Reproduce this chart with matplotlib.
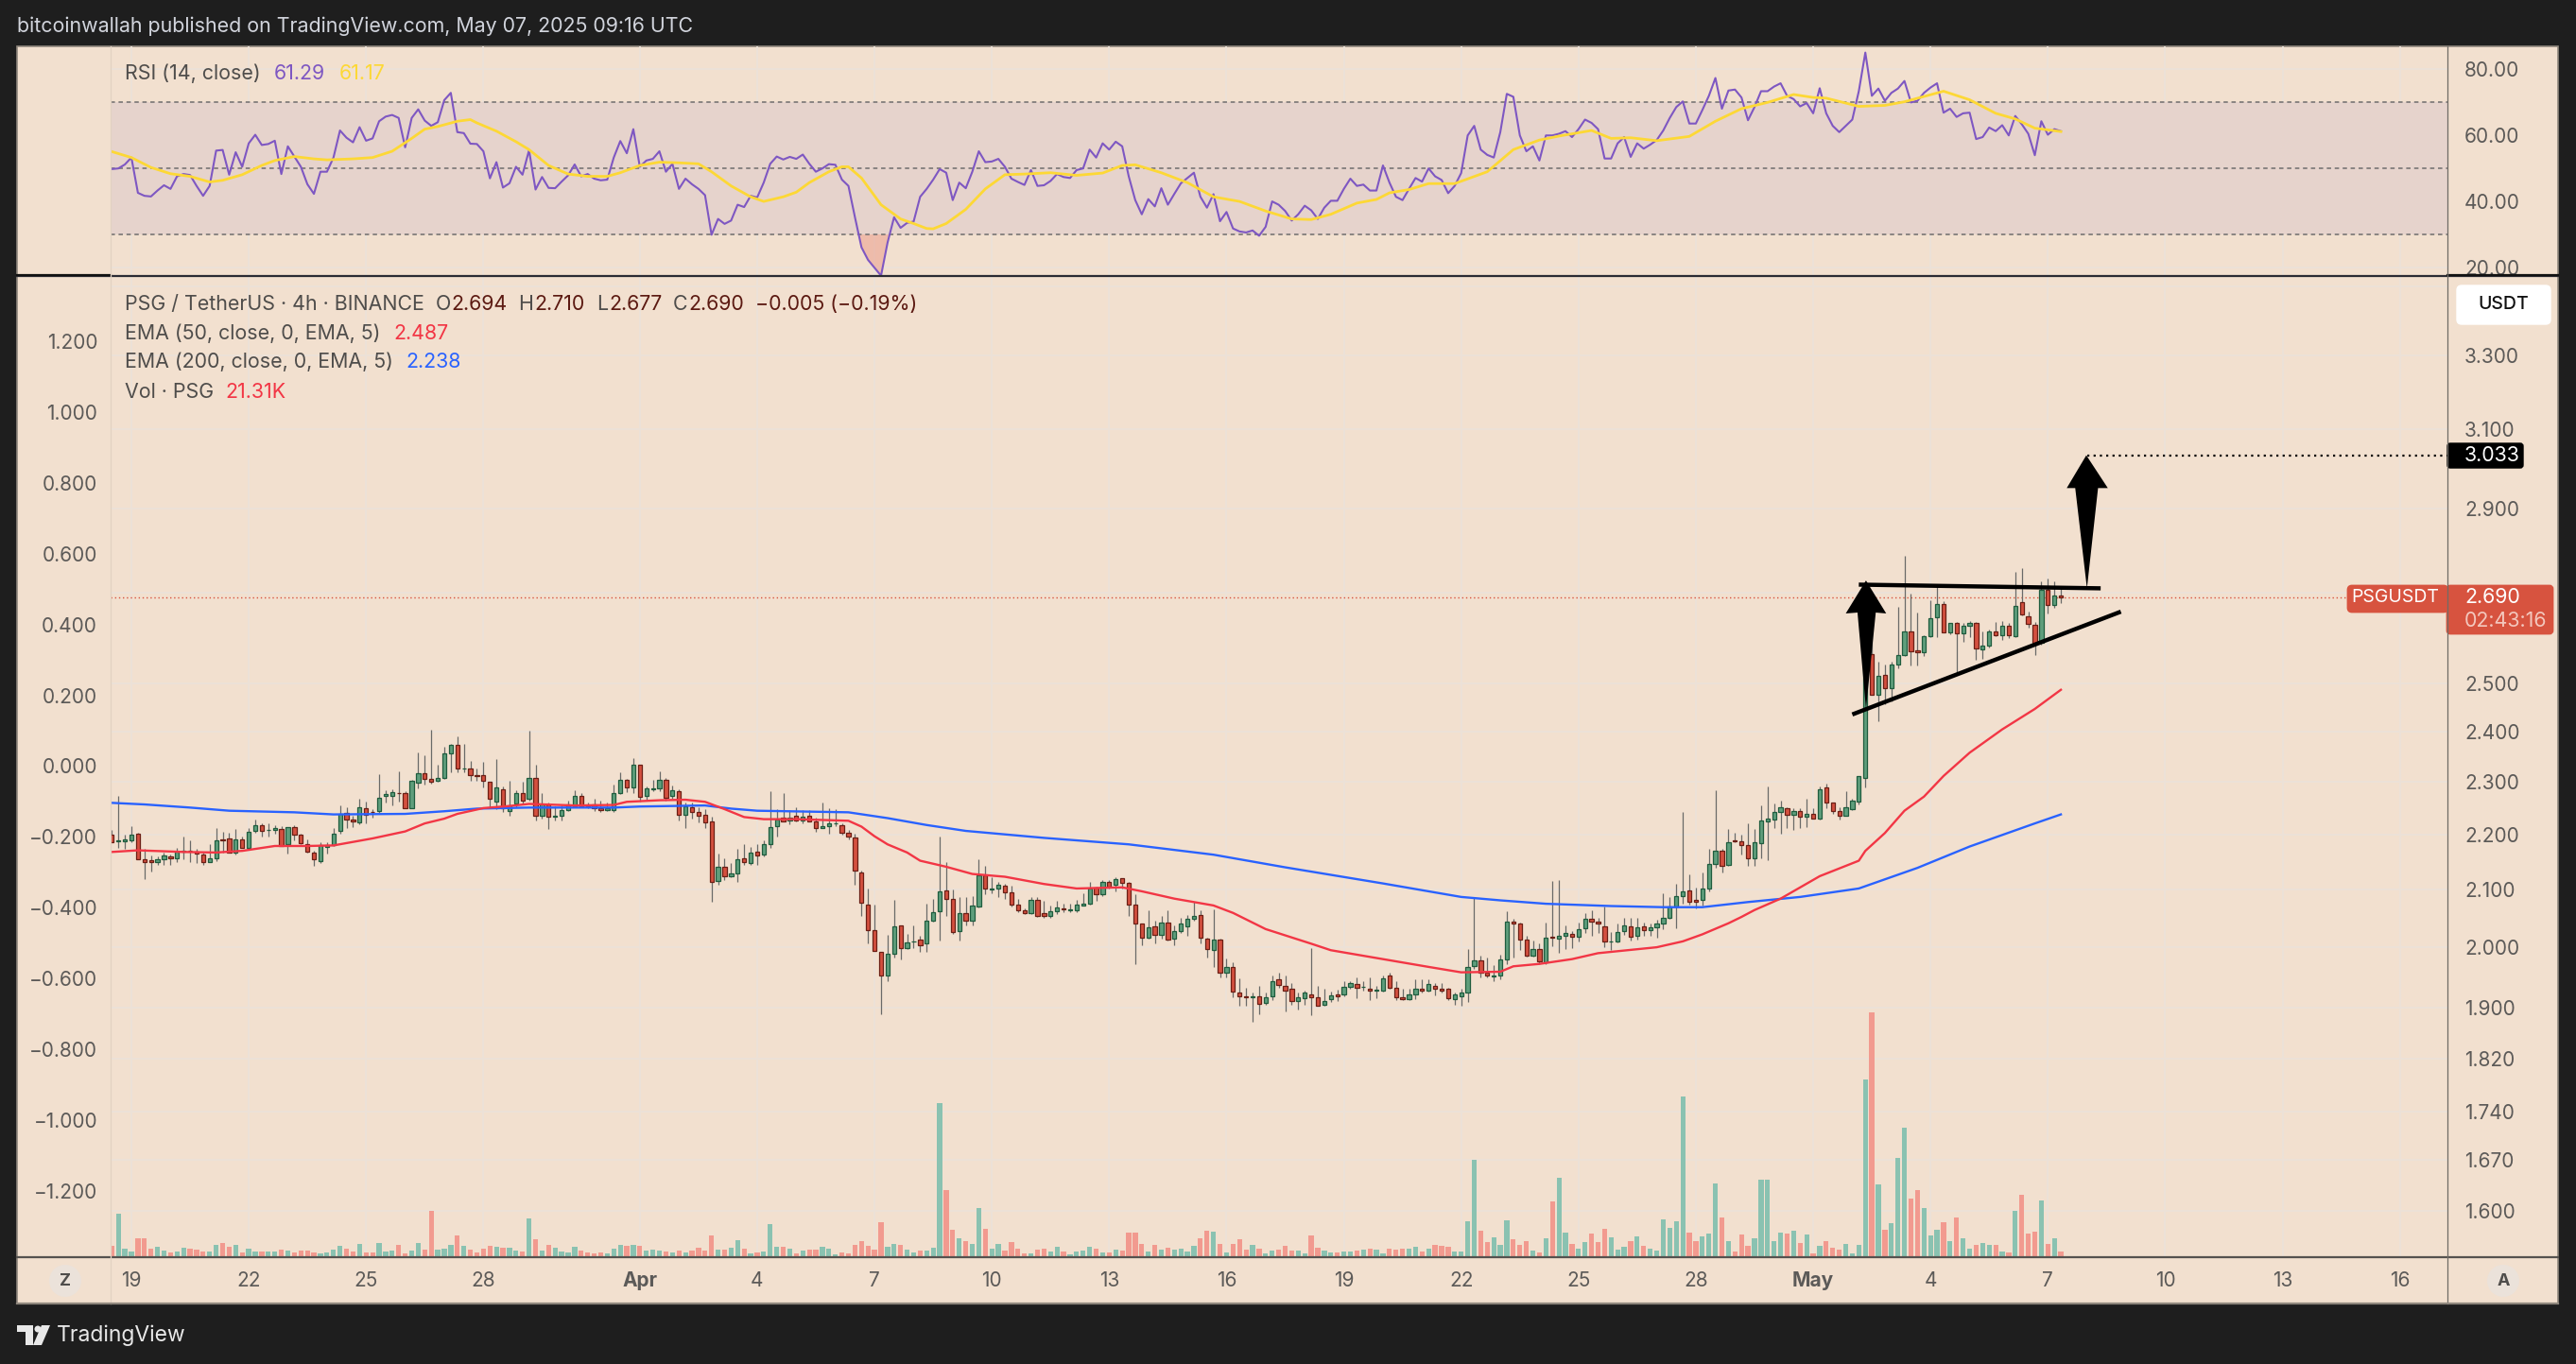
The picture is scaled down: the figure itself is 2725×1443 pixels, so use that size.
from matplotlib import pyplot as plt
from matplotlib.patches import Rectangle, FancyBboxPatch, Ellipse, Polygon
from matplotlib.ticker import NullLocator
import numpy as np

plt.rcParams['font.family'] = ['Inter', 'DejaVu Sans']

# 4h candles, oldest first
opens = [
    2.200,2.187,2.187,2.190,2.202,2.155,2.153,2.149,2.155,2.160,
    2.156,2.168,2.171,2.168,2.164,2.149,2.156,2.191,2.193,2.167,
    2.191,2.175,2.207,2.218,2.208,2.208,2.211,2.182,2.214,2.200,
    2.183,2.167,2.151,2.177,2.180,2.207,2.241,2.229,2.223,2.250,
    2.243,2.244,2.273,2.273,2.279,2.279,2.250,2.299,2.318,2.307,
    2.303,2.309,2.357,2.374,2.326,2.326,2.313,2.313,2.300,2.262,
    2.287,2.245,2.258,2.279,2.267,2.308,2.235,2.257,2.233,2.235,
    2.246,2.254,2.273,2.255,2.257,2.249,2.247,2.247,2.279,2.304,
    2.289,2.334,2.273,2.287,2.288,2.304,2.273,2.282,2.237,2.252,
    2.243,2.238,2.225,2.115,2.141,2.124,2.129,2.157,2.148,2.169,
    2.163,2.182,2.215,2.232,2.227,2.236,2.226,2.236,2.225,2.212,
    2.216,2.221,2.218,2.204,2.195,2.131,2.074,2.029,1.992,1.952,
    1.989,2.038,1.998,2.009,2.013,2.007,2.046,2.062,2.098,2.084,
    2.028,2.059,2.045,2.071,2.126,2.101,2.102,2.107,2.095,2.074,
    2.064,2.059,2.082,2.059,2.053,2.062,2.067,2.063,2.063,2.072,
    2.075,2.104,2.091,2.114,2.108,2.120,2.112,2.074,2.040,2.016,
    2.036,2.021,2.043,2.014,2.028,2.036,2.048,2.056,2.015,1.995,
    2.013,1.957,1.967,1.925,1.918,1.917,1.919,1.908,1.919,1.947,
    1.936,1.931,1.911,1.916,1.922,1.917,1.905,1.914,1.922,1.922,
    1.934,1.939,1.934,1.931,1.928,1.928,1.952,1.933,1.917,1.914,
    1.922,1.931,1.928,1.936,1.931,1.931,1.914,1.918,1.925,1.969,
    1.978,1.958,1.951,1.953,1.980,2.044,2.041,2.013,1.986,1.997,
    1.974,2.018,2.015,2.020,2.023,2.018,2.032,2.049,2.044,2.036,
    2.009,2.010,2.028,2.036,2.019,2.036,2.030,2.034,2.040,2.051,
    2.070,2.088,2.098,2.082,2.082,2.102,2.146,2.171,2.145,2.190,
    2.188,2.181,2.157,2.184,2.225,2.229,2.243,2.250,2.238,2.245,
    2.234,2.239,2.230,2.289,2.261,2.245,2.236,2.248,2.263,2.308,
    2.564,2.476,2.519,2.490,2.540,2.562,2.613,2.572,2.568,2.603,
    2.645,2.675,2.611,2.631,2.609,2.626,2.631,2.573,2.581,2.613,
    2.605,2.626,2.603,2.679,2.646,2.628,2.587,2.706,2.673,2.694,
]
highs = [
    2.209,2.273,2.200,2.215,2.204,2.174,2.161,2.160,2.166,2.164,
    2.176,2.197,2.189,2.174,2.166,2.182,2.213,2.206,2.203,2.210,
    2.197,2.212,2.229,2.221,2.221,2.218,2.215,2.214,2.217,2.202,
    2.191,2.171,2.186,2.186,2.212,2.256,2.252,2.236,2.268,2.263,
    2.248,2.316,2.285,2.286,2.321,2.282,2.305,2.359,2.353,2.404,
    2.334,2.370,2.375,2.391,2.375,2.342,2.326,2.339,2.301,2.345,
    2.292,2.302,2.285,2.300,2.403,2.334,2.279,2.260,2.254,2.255,
    2.265,2.285,2.279,2.260,2.268,2.265,2.260,2.295,2.319,2.306,
    2.348,2.334,2.292,2.304,2.321,2.308,2.293,2.286,2.260,2.261,
    2.252,2.248,2.234,2.165,2.156,2.148,2.173,2.183,2.177,2.183,
    2.190,2.282,2.248,2.279,2.246,2.251,2.246,2.246,2.231,2.261,
    2.249,2.248,2.222,2.209,2.202,2.134,2.102,2.074,1.992,2.021,
    2.082,2.038,2.022,2.038,2.020,2.075,2.083,2.197,2.150,2.100,
    2.086,2.086,2.088,2.155,2.143,2.122,2.114,2.111,2.107,2.083,
    2.067,2.086,2.086,2.080,2.072,2.080,2.075,2.075,2.081,2.094,
    2.113,2.105,2.117,2.117,2.122,2.121,2.113,2.091,2.040,2.063,
    2.045,2.053,2.064,2.037,2.050,2.056,2.079,2.064,2.016,2.066,
    2.014,1.981,1.975,1.948,1.932,1.925,1.935,1.925,1.953,1.957,
    1.952,1.941,1.925,1.928,1.998,1.935,1.931,1.926,1.930,1.944,
    1.944,1.949,1.944,1.949,1.936,1.952,1.957,1.944,1.931,1.931,
    1.947,1.947,1.947,1.941,1.941,1.933,1.925,1.931,1.997,2.086,
    1.986,1.982,1.970,1.987,2.062,2.049,2.043,2.020,2.012,2.006,
    2.042,2.115,2.117,2.037,2.028,2.042,2.059,2.063,2.051,2.071,
    2.026,2.040,2.050,2.050,2.051,2.042,2.041,2.047,2.094,2.087,
    2.110,2.242,2.127,2.104,2.131,2.173,2.285,2.173,2.210,2.204,
    2.200,2.221,2.211,2.255,2.291,2.258,2.264,2.252,2.250,2.250,
    2.268,2.250,2.291,2.298,2.261,2.252,2.282,2.268,2.311,2.650,
    2.693,2.547,2.540,2.547,2.668,2.785,2.698,2.654,2.605,2.683,
    2.717,2.680,2.631,2.633,2.631,2.635,2.633,2.613,2.618,2.633,
    2.635,2.631,2.749,2.756,2.658,2.633,2.727,2.733,2.727,2.710,
]
lows = [
    2.186,2.175,2.173,2.186,2.155,2.118,2.133,2.144,2.144,2.145,
    2.149,2.154,2.149,2.148,2.145,2.149,2.151,2.166,2.166,2.163,
    2.175,2.174,2.203,2.196,2.197,2.202,2.179,2.165,2.190,2.183,
    2.166,2.143,2.147,2.165,2.179,2.201,2.212,2.214,2.219,2.221,
    2.232,2.240,2.260,2.256,2.263,2.249,2.249,2.288,2.295,2.298,
    2.301,2.306,2.320,2.320,2.320,2.302,2.302,2.289,2.250,2.248,
    2.242,2.236,2.252,2.257,2.265,2.227,2.230,2.210,2.227,2.226,
    2.244,2.252,2.252,2.250,2.245,2.243,2.244,2.243,2.277,2.280,
    2.279,2.263,2.265,2.282,2.282,2.265,2.267,2.226,2.212,2.230,
    2.223,2.212,2.079,2.108,2.117,2.123,2.113,2.145,2.144,2.145,
    2.160,2.175,2.196,2.224,2.219,2.224,2.221,2.224,2.205,2.212,
    2.201,2.215,2.200,2.191,2.108,2.053,2.006,1.994,1.890,1.943,
    1.983,1.979,1.997,1.999,1.992,1.992,2.044,2.011,2.053,2.022,
    2.011,2.037,2.037,2.069,2.091,2.094,2.086,2.083,2.071,2.061,
    2.057,2.057,2.052,2.050,2.051,2.057,2.061,2.061,2.061,2.072,
    2.074,2.080,2.089,2.102,2.097,2.102,2.053,1.971,2.003,2.014,
    2.006,2.014,2.011,2.003,2.025,2.020,2.046,2.006,1.982,1.967,
    1.950,1.949,1.917,1.904,1.903,1.878,1.890,1.905,1.912,1.933,
    1.894,1.905,1.898,1.905,1.888,1.903,1.904,1.910,1.911,1.919,
    1.931,1.915,1.928,1.913,1.915,1.926,1.931,1.912,1.912,1.912,
    1.914,1.925,1.926,1.920,1.925,1.912,1.905,1.904,1.909,1.963,
    1.950,1.950,1.944,1.946,1.972,1.983,1.995,1.984,1.985,1.972,
    1.972,2.001,1.990,1.997,1.999,2.009,2.025,2.019,2.024,2.000,
    1.995,2.008,2.021,2.011,2.013,2.019,2.020,2.016,2.031,2.048,
    2.032,2.075,2.074,2.067,2.072,2.097,2.140,2.131,2.143,2.186,
    2.163,2.143,2.143,2.156,2.153,2.212,2.201,2.212,2.209,2.213,
    2.214,2.230,2.229,2.249,2.239,2.228,2.235,2.246,2.257,2.290,
    2.476,2.422,2.457,2.463,2.533,2.560,2.539,2.539,2.560,2.601,
    2.601,2.612,2.607,2.519,2.591,2.601,2.550,2.553,2.578,2.603,
    2.595,2.599,2.601,2.649,2.622,2.561,2.584,2.652,2.666,2.677,
]
closes = [
    2.186,2.189,2.191,2.200,2.155,2.149,2.149,2.155,2.162,2.156,
    2.169,2.171,2.170,2.165,2.149,2.157,2.190,2.190,2.167,2.191,
    2.175,2.205,2.218,2.207,2.209,2.213,2.179,2.214,2.200,2.184,
    2.169,2.155,2.181,2.181,2.202,2.239,2.229,2.224,2.252,2.237,
    2.242,2.270,2.277,2.280,2.278,2.249,2.302,2.318,2.307,2.301,
    2.309,2.357,2.374,2.326,2.326,2.313,2.311,2.303,2.267,2.289,
    2.250,2.255,2.279,2.265,2.309,2.235,2.257,2.233,2.235,2.246,
    2.257,2.273,2.253,2.254,2.249,2.246,2.249,2.279,2.304,2.289,
    2.334,2.271,2.288,2.288,2.304,2.269,2.284,2.237,2.254,2.243,
    2.236,2.223,2.114,2.141,2.124,2.129,2.155,2.149,2.166,2.161,
    2.183,2.214,2.229,2.224,2.232,2.227,2.234,2.225,2.212,2.216,
    2.221,2.221,2.204,2.197,2.134,2.077,2.029,1.994,1.952,1.989,
    2.036,1.998,2.008,2.010,2.003,2.046,2.061,2.097,2.083,2.026,
    2.059,2.045,2.072,2.126,2.102,2.102,2.109,2.096,2.074,2.064,
    2.059,2.082,2.054,2.054,2.062,2.069,2.065,2.066,2.074,2.075,
    2.102,2.091,2.114,2.106,2.118,2.112,2.074,2.040,2.016,2.034,
    2.021,2.043,2.013,2.028,2.040,2.049,2.054,2.016,1.997,2.013,
    1.957,1.967,1.926,1.919,1.917,1.919,1.907,1.917,1.944,1.937,
    1.928,1.911,1.917,1.925,1.917,1.903,1.911,1.920,1.919,1.934,
    1.941,1.933,1.934,1.928,1.929,1.948,1.933,1.917,1.914,1.922,
    1.931,1.928,1.939,1.931,1.928,1.915,1.922,1.925,1.967,1.978,
    1.958,1.953,1.952,1.980,2.044,2.041,2.013,1.986,1.997,1.976,
    2.016,2.017,2.020,2.025,2.018,2.031,2.048,2.044,2.040,2.010,
    2.010,2.026,2.037,2.018,2.034,2.030,2.034,2.041,2.051,2.070,
    2.088,2.097,2.078,2.078,2.102,2.146,2.171,2.143,2.186,2.187,
    2.181,2.157,2.186,2.227,2.230,2.243,2.252,2.238,2.245,2.234,
    2.239,2.230,2.287,2.261,2.245,2.236,2.252,2.264,2.311,2.560,
    2.476,2.517,2.490,2.541,2.562,2.613,2.570,2.568,2.603,2.643,
    2.675,2.611,2.631,2.609,2.626,2.631,2.575,2.581,2.613,2.605,
    2.626,2.605,2.671,2.651,2.629,2.587,2.706,2.673,2.694,2.690,
]
# volume, thousands
volumes = [
    44,181,33,21,77,77,33,41,25,17,
    21,37,33,29,21,21,49,57,41,49,
    17,33,21,21,21,21,29,25,17,25,
    25,17,13,17,29,45,33,21,53,17,
    17,57,21,25,49,13,25,57,29,193,
    29,33,49,89,45,29,17,33,45,41,
    37,37,25,21,161,73,25,49,37,21,
    17,41,25,17,13,17,13,33,49,45,
    49,45,25,29,25,21,17,25,17,25,
    37,25,89,29,29,37,69,33,13,17,
    21,137,41,41,33,13,25,29,29,41,
    33,9,17,13,49,65,45,29,145,41,
    53,49,29,17,25,25,37,649,281,113,
    77,65,53,205,117,33,53,25,61,33,
    13,13,29,33,21,41,21,9,21,25,
    41,33,17,17,29,25,101,101,53,21,
    49,29,37,29,33,21,45,77,109,105,
    53,17,53,73,29,49,33,13,25,29,
    45,25,25,13,89,37,25,17,17,21,
    21,25,29,33,29,13,33,29,33,33,
    41,21,33,49,45,41,21,21,149,409,
    109,61,81,49,153,73,49,65,25,17,
    77,233,333,101,53,33,61,97,61,117,
    81,29,41,65,85,45,33,25,157,121,
    149,677,101,65,85,97,309,165,65,21,
    93,45,77,325,325,65,101,97,109,57,
    93,13,45,65,37,29,53,13,49,749,
    1033,305,113,141,417,545,245,281,205,89,
    113,145,65,165,77,33,49,57,49,49,
    21,17,193,261,97,105,237,53,77,21.31,
]
rsi = [
    49.8,50,51.2,53.3,42.6,41.7,41.5,43.3,44.9,43.8,47.6,48.3,48,44.7,41.7,44.7,
    55.4,55.6,48.1,54.9,50.5,57.6,60.2,57.1,57.4,58.4,48.3,56.7,53.6,50.5,45.2,42.3,
    49,49,53.3,61.5,59.3,57.9,62.5,58.4,59.1,64.3,65.7,66.2,65.3,56.4,65.3,67.9,
    64.5,62.9,64,70.7,72.9,61,60.7,57.5,57.4,55.2,47,51.9,44.2,45.5,50.5,48.1,
    55.5,43.6,47.4,44.1,44,46,47.9,51.2,47.6,48.3,46.9,46.4,46.6,53.3,58.3,54.6,
    61.9,50.5,52.4,52.9,55.2,49,51.4,43.8,46.9,45.2,43.8,41.9,29.9,34.7,33.2,34.2,
    39,38.3,41.7,41.2,45.7,51.4,53.6,52.7,53.5,52.9,54.2,51.4,49,50,51.3,51.1,
    46.6,44.7,35.2,26.1,22.3,19.9,17.5,27.5,35.2,32,33.5,33.9,41.4,43.8,46.6,49.8,48.7,
    40.4,45.7,44,49,55.2,51.9,52.1,52.9,50.5,46.9,45.9,45,49.5,44.7,44.9,46.2,
    48.3,47.4,47.1,49.5,50,55.7,53.3,57.6,55.7,58.1,56.7,47.6,40.4,36.1,40.7,38.5,
    44,39,42.3,45.5,47.1,48.7,41.4,38.1,42.2,34,36.8,31.8,30.9,30.6,31.2,29.6,
    32.3,40,39,37.1,34.2,36.1,38.7,37.3,34.7,38.1,40.2,40.2,43.8,46.9,44.7,45.1,
    43.3,43.3,50.9,45.7,41.4,40.4,43.8,47.1,46,50,47.6,46.5,42.5,44.7,48.6,60,
    62.9,55.7,54.1,53.3,61,72.6,71.7,60,55.2,56.7,52.4,60,60,60.5,61.3,59.5,
    61.9,64.8,63.8,61.9,53,53,57.6,59.5,53.5,57.6,56,57.2,58.6,61.5,65.3,68.6,
    70.3,63.6,63.6,67.7,72,77.4,68.1,73.6,73.9,71.5,64.6,68.6,73.4,73.4,74.8,75.8,
    72,71,68.8,69.8,66.7,74.3,66.7,62.9,61,62.9,64.8,73.4,85.1,72,74.2,70.5,
    72.9,74.2,76.5,70,70.5,72.9,74.5,75.8,66.9,68.1,65.6,66.7,66.9,58.9,59.5,62.4,
    61.3,63.1,60,65.9,63.4,60.5,54,64.3,60.2,61.9,61.29,
]
# smoothed lines, read at these candle numbers
rsi_ma_bars = [
    0,3,6,9,12,15,17,20,23,25,28,31,33,37,40,43,46,48,50,53,55,56,59,62,64,67,70,73,76,78,
    81,84,87,90,92,95,98,100,103,105,107,110,112,113,115,118,121,123,125,126,128,
    131,134,137,140,144,148,152,155,157,161,165,169,173,177,181,184,187,191,194,196,199,202,206,
    211,215,219,222,227,230,233,237,242,246,250,254,258,261,263,268,272,275,281,285,289,292,295,299,
]
rsi_ma = [
    55.1,53.3,50.3,48.4,47.6,45.9,46.4,48.1,50.9,52.4,53.6,52.9,52.6,52.9,53.3,55.2,59.1,61.9,62.7,64.3,64.8,63.8,61.3,58.1,55.7,50.9,48.3,47.6,47.6,48.7,
    50.9,51.9,51.7,51.4,49,44.7,41.4,40,41.4,42.8,45.7,49,50.5,50.5,47.1,39,34.7,33.3,31.8,31.7,33.3,
    37.6,43.8,48.1,48.3,48.7,47.9,48.6,50.9,51.1,48.7,45.7,41.4,40,37.1,34.7,34.5,36.1,39.5,40.6,42.6,43.6,45.4,45.4,
    49,55.7,58.6,59.8,61.5,59.1,59.3,58.4,59.7,64.3,68.1,70,72.4,71.5,71.3,68.8,69.1,70.2,73.4,70.8,66.7,65,62.2,61.17,
]
ema50_bars = [
    0,4,11,16,20,25,30,34,40,45,48,51,53,57,61,64,71,77,79,84,88,91,94,97,100,105,113,115,117,119,
    122,124,128,132,137,143,148,155,158,163,169,172,177,184,187,195,202,207,213,215,219,224,228,237,241,244,248,250,252,256,
    262,268,269,272,275,278,281,285,290,295,299,
]
ema50 = [
    2.168,2.171,2.168,2.167,2.170,2.179,2.179,2.180,2.193,2.206,2.221,2.230,2.239,2.250,2.254,2.258,2.255,2.256,2.262,2.265,
    2.266,2.262,2.248,2.233,2.229,2.229,2.226,2.215,2.197,2.182,2.167,2.152,2.141,2.128,2.123,2.110,2.102,2.104,2.097,2.084,
    2.072,2.059,2.031,2.006,1.995,1.980,1.967,1.958,1.959,1.968,1.972,1.980,1.990,2.000,2.010,2.022,2.041,2.052,2.064,2.084,
    2.124,2.152,2.170,2.203,2.245,2.272,2.312,2.358,2.405,2.447,2.487,
]
ema200_bars = [
    0,5,12,18,28,34,45,51,56,64,77,81,91,95,99,113,119,125,131,143,156,169,180,195,207,213,220,230,238,244,
    251,259,268,277,285,295,299,
]
ema200 = [
    2.260,2.257,2.251,2.245,2.242,2.238,2.239,2.244,2.249,2.251,2.251,2.253,2.255,2.249,2.245,2.242,2.231,2.218,2.207,2.194,
    2.182,2.163,2.140,2.111,2.087,2.081,2.075,2.071,2.069,2.069,2.078,2.087,2.102,2.139,2.178,2.221,2.238,
]

right_prices = [1.6,1.67,1.74,1.82,1.9,2.0,2.1,2.2,2.3,2.4,2.5,2.7,2.9,3.1,3.3,3.5]
right_labels = ['1.600','1.670','1.740','1.820','1.900','2.000','2.100','2.200','2.300','2.400','2.500','','2.900','3.100','3.300','']
left_ticks = [1.2,1.0,0.8,0.6,0.4,0.2,0.0,-0.2,-0.4,-0.6,-0.8,-1.0,-1.2]
rsi_ticks = [80,60,40,20]
date_bars = [3,21,39,57,81,99,117,135,153,171,189,207,225,243,261,279,297,315,333,351]
date_labels = ['19','22','25','28','Apr','4','7','10','13','16','19','22','25','28','May','4','7','10','13','16']

PANE = '#f2e0cf'
DARK = '#1e1e1e'
GRID = '#ece2d8'
AXTEXT = '#5c5a58'
LEGEND = '#4f4d4b'
W, H = 2725, 1443
X0, X1 = 117, 2589
YR0, YR1, YM1 = 49, 292, 1330


def rect(x0, y0, x1, y1):
    return [x0 / W, 1 - y1 / H, (x1 - x0) / W, (y1 - y0) / H]


fig = plt.figure(figsize=(W / 100, H / 100), dpi=100, facecolor=DARK)

bg = fig.add_axes([0, 0, 1, 1], zorder=0)
bg.set_xlim(0, W)
bg.set_ylim(H, 0)
bg.axis('off')
bg.add_patch(Rectangle((18, 49), 2688, 1330, fc=PANE, ec='#8f877d', lw=1.2))

# RSI pane
ax_rsi = fig.add_axes(rect(X0, YR0, X1, YR1), zorder=1)
ax_rsi.patch.set_visible(False)
bars = np.arange(len(closes))
ax_rsi.set_xlim(-0.19, 358.3)
ax_rsi.set_ylim(17.4, 87)
ax_rsi.axhspan(30, 70, color='#e6d3cc', lw=0)
ax_rsi.set_xticks(date_bars)
ax_rsi.set_yticks(rsi_ticks, ['%.2f' % t for t in rsi_ticks])
ax_rsi.yaxis.tick_right()
ax_rsi.tick_params(length=0, labelbottom=False, labelsize=15, colors=AXTEXT, pad=13)
ax_rsi.grid(True, color=GRID, lw=1.3)
ax_rsi.set_axisbelow(True)
for v in (70, 50, 30):
    ax_rsi.axhline(v, color='#6f6d6d', lw=1.1, ls=(0, (3, 2.5)))
rsi_arr = np.array(rsi)
ax_rsi.fill_between(bars, rsi_arr, 30, where=rsi_arr < 30, color='#ea8f7d', alpha=0.45, lw=0, interpolate=True)
ax_rsi.plot(bars, rsi_arr, color='#7e57c2', lw=1.5, zorder=4)
ax_rsi.plot(rsi_ma_bars, rsi_ma, color='#fdd835', lw=2, zorder=5)
for s in ax_rsi.spines.values():
    s.set_visible(False)

# price pane
ax = fig.add_axes(rect(X0, YR1, X1, YM1), zorder=2)
ax.patch.set_visible(False)

# percent scale on the left
ax_pct = ax.twinx()
ax_pct.set_zorder(1)
ax_pct.set_ylim(-1.387, 1.384)
ax_pct.set_yticks(left_ticks, [('%.3f' % t).replace('-', '\u2212') for t in left_ticks])
ax_pct.yaxis.tick_left()
ax_pct.tick_params(length=0, labelsize=15, colors=AXTEXT, pad=10)
for s in ax_pct.spines.values():
    s.set_visible(False)

# volume
ax_vol = ax.twinx()
ax_vol.set_zorder(3)
ax_vol.set_ylim(-4, 4148)
ax_vol.set_yticks([])
for s in ax_vol.spines.values():
    s.set_visible(False)

ax.set_yscale('log')
ax.set_xlim(-0.19, 358.3)
ax.set_ylim(1.5385, 3.53)
ax.set_yticks(right_prices, right_labels)
ax.yaxis.set_minor_locator(NullLocator())
ax.yaxis.tick_right()
ax.set_xticks(date_bars, date_labels)
ax.tick_params(length=0, labelsize=15, colors=AXTEXT)
ax.tick_params(axis='y', pad=13)
ax.tick_params(axis='x', pad=11)
for t in ax.get_xticklabels():
    if t.get_text() in ('Apr', 'May'):
        t.set_fontweight('bold')
ax.grid(True, color=GRID, lw=1.3)
ax.set_axisbelow(True)
for s in ax.spines.values():
    s.set_visible(False)
ax.axhline(2.69, color='#d7533f', lw=1, ls=(0, (1, 2)))

o, h, l, c = map(np.array, (opens, highs, lows, closes))
up = c >= o
ax.vlines(bars, l, h, color='#6a6a68', lw=0.9, zorder=3)
top = np.maximum(o, c)
bot = np.minimum(o, c)
ax.bar(bars[up], (top - bot)[up], bottom=bot[up], width=0.62, color='#5f9e7c', edgecolor='#1f5c3e', lw=0.9, zorder=4)
ax.bar(bars[~up], (top - bot)[~up], bottom=bot[~up], width=0.62, color='#d4503f', edgecolor='#6b1f15', lw=0.9, zorder=4)

ax.plot(ema200_bars, ema200, color='#2962ff', lw=1.7, zorder=5)
ax.plot(ema50_bars, ema50, color='#f23645', lw=1.7, zorder=5)

# drawn trendlines and arrows
ax.plot([268, 305.1], [2.7185, 2.71], color='black', lw=3.2, zorder=6, solid_capstyle='butt')
ax.plot([267, 308.2], [2.4356, 2.657], color='black', lw=3.2, zorder=6, solid_capstyle='butt')
ax.fill([269.1, 272.2, 270.6, 269.1, 267.8, 266.0], [2.728, 2.653, 2.655, 2.447, 2.655, 2.653], color='black', lw=0, zorder=6)
ax.fill([302.9, 306.2, 304.7, 303.0, 301.2, 299.9], [3.033, 2.95, 2.95, 2.71, 2.95, 2.95], color='black', lw=0, zorder=6)
ax.plot([303, 358.3], [3.033, 3.033], color='black', lw=1.6, ls=(0, (1, 2)), zorder=6)

vol_colors = ['#8ac2b1' if u else '#f29a8f' for u in up]
ax_vol.bar(bars, volumes, width=0.76, color=vol_colors, lw=0)

# chrome and labels, in pixel coordinates
top_ax = fig.add_axes([0, 0, 1, 1], zorder=10)
top_ax.set_xlim(0, W)
top_ax.set_ylim(H, 0)
top_ax.axis('off')


def label(x, y, s, color=LEGEND, size=15.4, **kw):
    kw.setdefault('va', 'center')
    top_ax.text(x, y, s, color=color, fontsize=size, **kw)


top_ax.plot([18, 2706], [292, 292], color='#2b2b33', lw=1.6)
top_ax.plot([18, 117], [291, 291], color='#111111', lw=1.6)
top_ax.plot([2589, 2706], [291, 291], color='#111111', lw=1.6)
top_ax.plot([18, 2706], [1330, 1330], color='#55524f', lw=1.6)
top_ax.plot([2589, 2589], [49, 1379], color='#6f6b66', lw=0.9)
top_ax.plot([117, 117], [49, 1379], color='#e2d2c2', lw=0.9)
top_ax.plot([18, 2706], [1379, 1379], color='#8f877d', lw=1.6)

label(18, 28, 'bitcoinwallah published on TradingView.com, May 07, 2025 09:16 UTC', color='#d1d4dc')

label(132, 78, 'RSI (14, close)')
label(290, 78, '61.29', color='#7e57c2')
label(359, 78, '61.17', color='#fdd835')

label(132, 322, 'PSG / TetherUS \u00b7 4h \u00b7 BINANCE')
VAL = '#5c1a12'
label(460.5, 322, 'O')
label(477, 322, '2.694', color=VAL)
label(548.5, 322, 'H')
label(565.7, 322, '2.710', color=VAL)
label(631, 322, 'L')
label(644, 322, '2.677', color=VAL)
label(712, 322, 'C')
label(728, 322, '2.690', color=VAL)
label(799, 322, '\u22120.005 (\u22120.19%)', color=VAL)

label(132, 353, 'EMA (50, close, 0, EMA, 5)')
label(416, 353, '2.487', color='#f23645')
label(132, 383, 'EMA (200, close, 0, EMA, 5)')
label(429, 383, '2.238', color='#2962ff')
label(132, 415, 'Vol \u00b7 PSG')
label(238, 415, '21.31K', color='#f23645')

# price tags
top_ax.add_patch(FancyBboxPatch((2484, 620), 105, 27, boxstyle='round,pad=0,rounding_size=4', fc='#d7533f', ec='#d7533f', lw=2))
top_ax.add_patch(FancyBboxPatch((2589, 620), 111, 50, boxstyle='round,pad=0,rounding_size=3', fc='#d7533f', ec='#d7533f', lw=2))
label(2487, 632, 'PSGUSDT', color='white', size=14)
label(2607, 632, '2.690', color='white')
label(2607, 657, '02:43:16', color='#f3c7bd')

top_ax.add_patch(FancyBboxPatch((2599, 302), 99, 41, boxstyle='round,pad=0,rounding_size=5', fc='white', ec='white', lw=1))
label(2648, 322, 'USDT', color='#111111', size=14, ha='center', fontweight='medium')

top_ax.add_patch(FancyBboxPatch((2589, 469), 80, 26, boxstyle='round,pad=0,rounding_size=3', fc='black', ec='black', lw=1))
label(2607, 482, '3.033', color='white')

# Z and A buttons
top_ax.add_patch(Ellipse((69, 1355), 34, 34, fc='#ebe2da', ec='none'))
label(69, 1355, 'Z', size=13, ha='center', fontweight='bold')
top_ax.add_patch(Ellipse((2648, 1355), 34, 34, fc='#ebe2da', ec='none'))
label(2648, 1355, 'A', size=13, ha='center', fontweight='bold')

# footer mark
top_ax.add_patch(Polygon([(18, 1402), (35, 1402), (35, 1423), (27, 1423), (27, 1409), (18, 1409)], fc='#e8e8e8', ec='none'))
top_ax.add_patch(Ellipse((40, 1406), 7, 7, fc='#e8e8e8', ec='none'))
top_ax.add_patch(Polygon([(44, 1402), (53, 1402), (44, 1423), (35, 1423)], fc='#e8e8e8', ec='none'))
label(60, 1413, 'TradingView', color='#e8e8e8', size=16.5)

fig.savefig('out.png', dpi=100, facecolor=DARK)
